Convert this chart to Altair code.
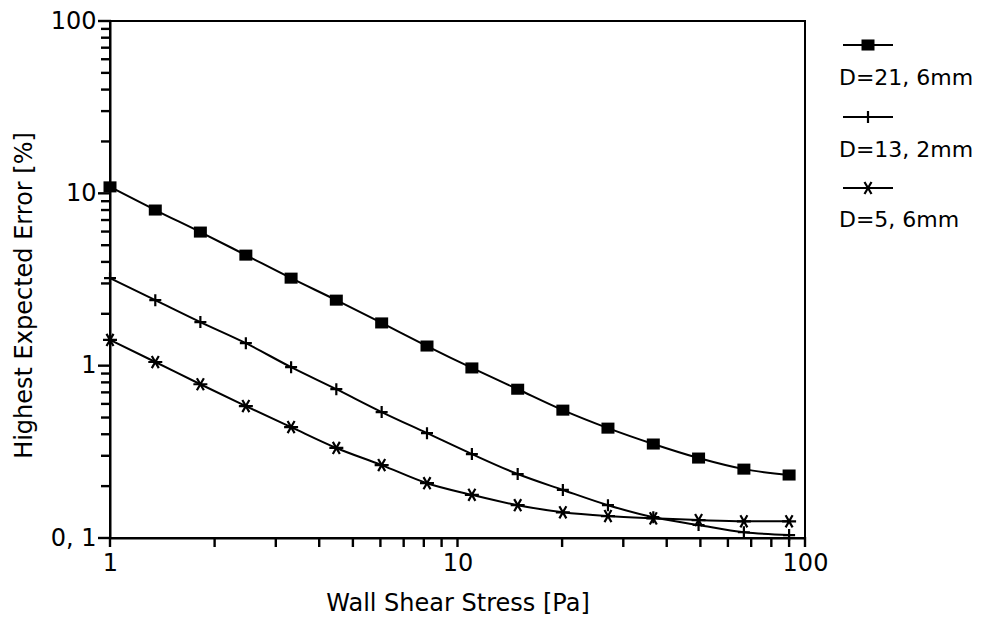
import altair as alt
import pandas as pd

# Wall shear stress [Pa] at which each error was evaluated
stress = [1, 1.35, 1.82, 2.46, 3.32, 4.48, 6.05, 8.17, 11.0, 14.9, 20.1, 27.1, 36.6, 49.4, 66.7, 90]

# Highest expected error [%] for three probe diameters
err_216 = [10.9, 8.0, 5.96, 4.38, 3.22, 2.40, 1.77, 1.30, 0.97, 0.73, 0.552, 0.434, 0.351, 0.291, 0.251, 0.232]
err_132 = [3.22, 2.40, 1.79, 1.35, 0.98, 0.73, 0.538, 0.406, 0.307, 0.235, 0.190, 0.155, 0.132, 0.119, 0.108, 0.104]
err_56 = [1.41, 1.05, 0.78, 0.583, 0.44, 0.333, 0.265, 0.208, 0.178, 0.155, 0.141, 0.134, 0.130, 0.127, 0.125, 0.125]

series_names = ["D=21, 6mm", "D=13, 2mm", "D=5, 6mm"]
series_values = [err_216, err_132, err_56]

# marker glyphs: filled block, thin plus, asterisk
shapes = [
    "M-1,-0.85H1V0.85H-1Z",
    "M-1,0H1M0,-1V1",
    "M-1,0H1M-0.5,-0.866L0.5,0.866M-0.5,0.866L0.5,-0.866",
]
marker_filled = [True, False, False]
marker_size = [169, 144, 196]

# tick positions on the log axes
x_ticks = [1, 2, 3, 4, 5, 6, 7, 8, 9, 10, 20, 30, 40, 50, 60, 70, 80, 90, 100]
y_major = [0.1, 1, 10, 100]
y_minor = [0.2, 0.3, 0.4, 0.5, 0.6, 0.7, 0.8, 0.9,
           2, 3, 4, 5, 6, 7, 8, 9,
           20, 30, 40, 50, 60, 70, 80, 90]

FONT = "DejaVu Sans"
W, H = 695, 517

rows = []
for name, vals in zip(series_names, series_values):
    for s, e in zip(stress, vals):
        rows.append({"stress": s, "err": e, "series": name})
df = pd.DataFrame(rows)

x_enc = alt.X(
    "stress:Q",
    scale=alt.Scale(type="log", domain=[1, 100], nice=False),
    axis=alt.Axis(
        title="Wall Shear Stress [Pa]",
        values=[1, 10, 100],
        labelExpr="datum.value == 1 ? '1' : datum.value == 10 ? '10' : '100'",
        ticks=False,
        labelPadding=13,
        titlePadding=16,
    ),
)
y_enc = alt.Y(
    "err:Q",
    scale=alt.Scale(type="log", domain=[0.1, 100], nice=False),
    axis=alt.Axis(
        title="Highest Expected Error [%]",
        values=y_major,
        labelExpr="datum.value == 0.1 ? '0, 1' : datum.value == 1 ? '1' : datum.value == 10 ? '10' : '100'",
        ticks=False,
        labelPadding=14,
        titlePadding=14,
        titleY=274,
    ),
)

layers = []

# outward tick marks along the bottom and left edges
layers.append(
    alt.Chart(pd.DataFrame({"stress": x_ticks})).mark_rule(color="black", strokeWidth=2.4).encode(
        x=x_enc, y=alt.value(H - 1), y2=alt.value(H + 9)
    )
)
layers.append(
    alt.Chart(pd.DataFrame({"err": y_minor})).mark_rule(color="black", strokeWidth=2.4).encode(
        y=y_enc, x=alt.value(-9), x2=alt.value(1)
    )
)
layers.append(
    alt.Chart(pd.DataFrame({"err": y_major})).mark_rule(color="black", strokeWidth=2.4).encode(
        y=y_enc, x=alt.value(-12), x2=alt.value(1)
    )
)

layers.append(
    alt.Chart(df).mark_line(color="black", strokeWidth=2, interpolate="monotone").encode(
        x=x_enc, y=y_enc, detail="series:N"
    )
)

for name, shp, filled, size in zip(series_names, shapes, marker_filled, marker_size):
    layers.append(
        alt.Chart(df[df["series"] == name]).mark_point(
            shape=shp, filled=filled, size=size, color="black",
            strokeWidth=2.2, opacity=1,
        ).encode(x=x_enc, y=y_enc)
    )

# legend: short line with marker, label underneath
legend_sym_y = [24, 96, 167]
legend_txt_y = [57, 129, 199]
for i, name in enumerate(series_names):
    one = pd.DataFrame({"label": [name]})
    layers.append(
        alt.Chart(one).mark_rule(color="black", strokeWidth=2).encode(
            x=alt.value(733), x2=alt.value(783), y=alt.value(legend_sym_y[i])
        )
    )
    layers.append(
        alt.Chart(one).mark_point(
            shape=shapes[i], filled=marker_filled[i], size=marker_size[i],
            color="black", strokeWidth=2.2, opacity=1,
        ).encode(x=alt.value(758), y=alt.value(legend_sym_y[i]))
    )
    layers.append(
        alt.Chart(one).mark_text(
            align="left", baseline="middle", font=FONT, fontSize=22, color="black"
        ).encode(x=alt.value(729), y=alt.value(legend_txt_y[i]), text="label:N")
    )

chart = (
    alt.layer(*layers)
    .properties(
        width=W,
        height=H,
        autosize=alt.AutoSizeParams(type="none"),
        padding={"left": 110, "top": 21, "right": 993 - 110 - W, "bottom": 618 - 21 - H},
    )
    .configure(background="white")
    .configure_view(stroke="black", strokeWidth=2)
    .configure_axis(
        grid=False,
        domainColor="black",
        domainWidth=2,
        labelFont=FONT,
        labelFontSize=24,
        labelColor="black",
        labelOverlap=False,
        labelFlush=False,
        titleFont=FONT,
        titleFontSize=24,
        titleFontWeight="normal",
        titleColor="black",
    )
)

chart.save("out.html", embed_options={"renderer": "svg", "actions": False})
